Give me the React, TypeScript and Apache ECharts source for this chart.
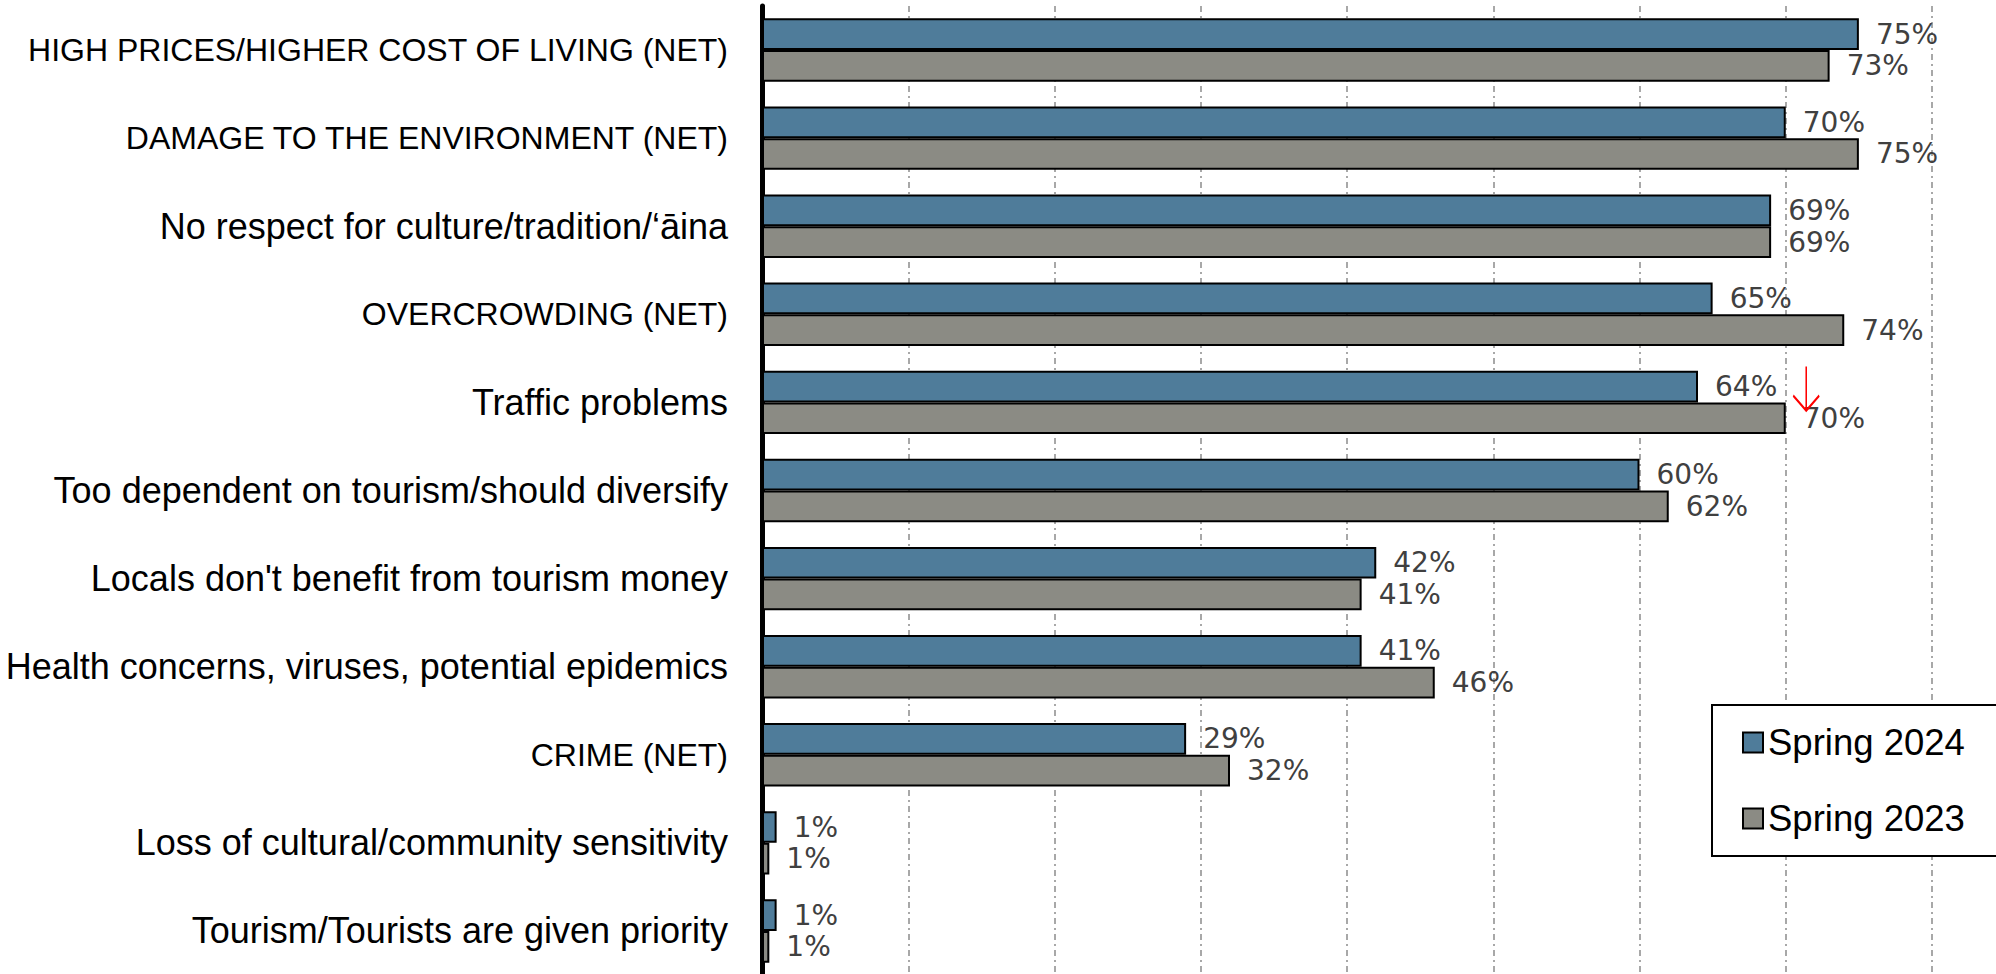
import React, { useEffect, useRef } from "react";
import * as echarts from "echarts";

const categories = [
  "HIGH PRICES/HIGHER COST OF LIVING (NET)",
  "DAMAGE TO THE ENVIRONMENT (NET)",
  "No respect for culture/tradition/‘āina",
  "OVERCROWDING (NET)",
  "Traffic problems",
  "Too dependent on tourism/should diversify",
  "Locals don't benefit from tourism money",
  "Health concerns, viruses, potential epidemics",
  "CRIME (NET)",
  "Loss of cultural/community sensitivity",
  "Tourism/Tourists are given priority",
];
const spring2024 = [75, 70, 69, 65, 64, 60, 42, 41, 29, 1, 1];
const spring2023 = [73, 75, 69, 74, 70, 62, 41, 46, 32, 0.5, 0.5];
const seriesNames = ["Spring 2024", "Spring 2023"];
const arrowAt = { value: 71.4, category: "Traffic problems" };

export default function App() {
  const ref = useRef<HTMLDivElement>(null);
  useEffect(() => {
    if (!ref.current) return;
    const chart = echarts.init(ref.current, null, { renderer: "svg" });
    const valueLabel = {
      show: true,
      position: "right",
      distance: 17,
      color: "#404040",
      fontFamily: "DejaVu Sans",
      fontSize: 28,
      formatter: (p: any) => Math.round(p.value) + "%",
    };
    chart.setOption({
      animation: false,
      backgroundColor: "#ffffff",
      grid: {
        left: 762,
        top: 6,
        width: 1170,
        height: 969,
        containLabel: false,
        outerBoundsMode: "none",
      },
      xAxis: {
        type: "value",
        min: 0,
        max: 80,
        interval: 10,
        axisLabel: { show: false },
        axisTick: { show: false },
        axisLine: { show: false },
        splitLine: {
          show: true,
          lineStyle: { color: "#8c8c8c", width: 1.5, type: [6, 4, 2, 4] },
        },
      },
      yAxis: {
        type: "category",
        data: categories,
        inverse: true,
        axisTick: { show: false },
        axisLine: { show: true, lineStyle: { color: "#000", width: 5 } },
        axisLabel: {
          margin: 34,
          color: "#000",
          fontFamily: "Liberation Sans",
          formatter: (v: string) =>
            v === v.toUpperCase() ? `{c|${v}}` : `{m|${v}}`,
          rich: {
            c: { fontSize: 32, fontFamily: "Liberation Sans", color: "#000" },
            m: { fontSize: 36, fontFamily: "Liberation Sans", color: "#000" },
          },
        },
      },
      legend: {
        orient: "vertical",
        left: 1712,
        top: 705,
        padding: [19, 60, 19, 30],
        itemGap: 39,
        itemWidth: 20,
        itemHeight: 20,
        icon: "rect",
        backgroundColor: "#fff",
        borderColor: "#000",
        borderWidth: 2,
        textStyle: { fontFamily: "Liberation Sans", fontSize: 36.5, color: "#000" },
        data: seriesNames,
      },
      series: [
        {
          name: seriesNames[0],
          type: "bar",
          data: spring2024,
          barGap: "0%",
          barCategoryGap: "28%",
          itemStyle: { color: "#4F7C9A", borderColor: "#000", borderWidth: 2 },
          label: valueLabel,
          markPoint: {
            silent: true,
            symbol: "path://M13 0 L13 44 M0 29 L13 44 L26 29",
            symbolSize: [26, 44],
            symbolOffset: [0, 2],
            itemStyle: { color: "rgba(0,0,0,0)", borderColor: "#ff0000", borderWidth: 2 },
            label: { show: false },
            data: [{ coord: [arrowAt.value, arrowAt.category] }],
          },
        },
        {
          name: seriesNames[1],
          type: "bar",
          data: spring2023,
          barGap: "0%",
          barCategoryGap: "28%",
          itemStyle: { color: "#8B8B84", borderColor: "#000", borderWidth: 2 },
          label: valueLabel,
        },
      ],
    });
    return () => chart.dispose();
  }, []);
  return (
    <div
      ref={ref}
      style={{ position: "fixed", left: 0, top: 0, width: 1996, height: 974 }}
    />
  );
}
